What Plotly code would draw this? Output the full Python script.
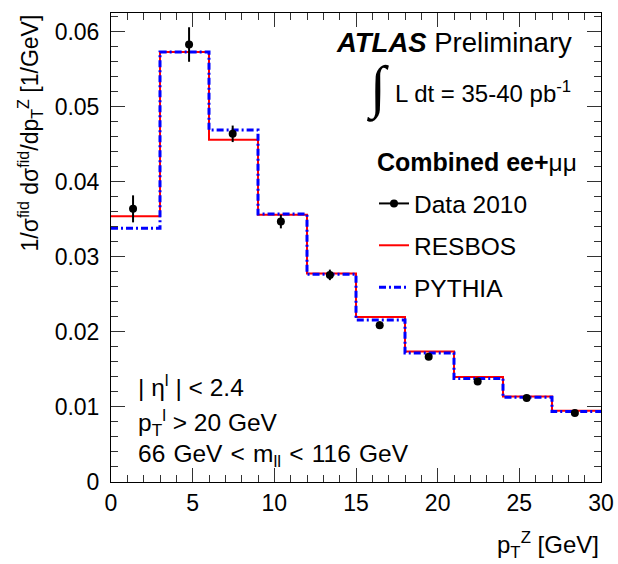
import plotly.graph_objects as go

# Z boson transverse momentum, normalised fiducial cross section
bin_edges = [0, 3, 6, 9, 12, 15, 18, 21, 24, 27, 30]
data_x = [1.35, 4.78, 7.45, 10.4, 13.4, 16.45, 19.45, 22.45, 25.45, 28.4]
data_y = [0.0364, 0.0583, 0.0464, 0.0347, 0.0276, 0.0209, 0.0167, 0.0134, 0.0112, 0.0092]
data_err = [0.0018, 0.0023, 0.0011, 0.0009, 0.0007, 0.0005, 0.0003, 0.0003, 0.0002, 0.0002]
resbos = [0.0354, 0.0573, 0.0456, 0.0356, 0.0278, 0.0220, 0.0174, 0.0140, 0.0114, 0.0095]
pythia = [0.0338, 0.0573, 0.0469, 0.0357, 0.0277, 0.0216, 0.0172, 0.0138, 0.0113, 0.0094]

FONT = "Liberation Sans, Arial, sans-serif"
FS = 23      # axis tick labels and titles
FT = 24.5    # legend and info text

# plot-area geometry in pixels, used to place the text labels
L, R, T, B = 111, 17, 13, 82
W, H = 618, 564
PW, PH = W - L - R, H - T - B


def px(xpix):
    return (xpix - L) / PW


def py(ypix):
    return (H - B - ypix) / PH


def step(values):
    # histogram outline: one horizontal segment per bin
    return bin_edges, list(values) + [values[-1]]


fig = go.Figure()

rx, ry = step(resbos)
fig.add_trace(go.Scatter(x=rx, y=ry, mode="lines", line_shape="hv",
                         line=dict(color="#ff0000", width=2),
                         name="RESBOS", legendgroup="b", legendrank=2))

qx, qy = step(pythia)
fig.add_trace(go.Scatter(x=qx, y=qy, mode="lines", line_shape="hv",
                         line=dict(color="#0000ff", width=3, dash="7px,3px,2px,3px"),
                         name="PYTHIA", legendgroup="c", legendrank=3))

fig.add_trace(go.Scatter(x=data_x, y=data_y, mode="markers",
                         marker=dict(color="black", size=8),
                         error_y=dict(type="data", array=data_err, color="black",
                                      thickness=2, width=0),
                         showlegend=False))

# legend entry for the data: line with a dot
fig.add_trace(go.Scatter(x=[None], y=[None], mode="lines+markers",
                         line=dict(color="black", width=2),
                         marker=dict(color="black", size=8),
                         name="Data 2010", legendgroup="a", legendrank=1))

axis_common = dict(showline=True, linecolor="black", linewidth=1, mirror="ticks",
                   ticks="inside", tickcolor="#333333", showgrid=False, zeroline=False,
                   automargin=False,
                   tickfont=dict(family=FONT, size=FS, color="black"))

fig.update_xaxes(range=[0, 30], dtick=5, tick0=0, ticklen=14,
                 minor=dict(ticks="inside", ticklen=7, dtick=1, tickcolor="#333333"),
                 **axis_common)
fig.update_yaxes(range=[0, 0.0625], dtick=0.01, tick0=0, ticklen=14,
                 ticklabelstandoff=6,
                 minor=dict(ticks="inside", ticklen=7, dtick=0.002, tickcolor="#333333"),
                 **axis_common)

SP = "\u2004"  # slightly wider gap between words

ann = []
ann.append(dict(text="1/σ<sup>fid</sup> dσ<sup>fid</sup>/dp<sub>T</sub><sup>Z</sup> [1/GeV]",
                xref="paper", yref="paper", x=px(29), y=1.0, xanchor="center",
                yanchor="top", textangle=-90, showarrow=False,
                font=dict(family=FONT, size=FS, color="black")))
ann.append(dict(text="p<sub>T</sub><sup>Z</sup> [GeV]", xref="paper", yref="paper",
                x=1.0, y=py(545), xanchor="right", yanchor="middle", showarrow=False,
                font=dict(family=FONT, size=24, color="black")))
ann.append(dict(text="<b><i>ATLAS</i></b> Preliminary", xref="paper", yref="paper",
                x=px(574), y=py(43), xanchor="right", yanchor="middle", showarrow=False,
                font=dict(family=FONT, size=27.5, color="black")))
ann.append(dict(text="∫", xref="paper", yref="paper",
                x=px(377), y=py(88), xanchor="center",
                yanchor="middle", showarrow=False,
                font=dict(family="Liberation Serif", size=58, color="black")))
ann.append(dict(text="L dt = 35-40 pb<sup>-1</sup>", xref="paper", yref="paper",
                x=px(573), y=py(92), xanchor="right", yanchor="middle",
                showarrow=False, font=dict(family=FONT, size=24, color="black")))
ann.append(dict(text="<b><span style='font-size:25px'>Combined ee+</span></b>μμ",
                xref="paper", yref="paper",
                x=px(375), y=py(162), xanchor="left", yanchor="middle",
                showarrow=False, font=dict(family=FONT, size=FT, color="black")))
for txt, yp in [("| η<sup>l</sup> | < 2.4", 385),
                ("p<sub>T</sub><sup>l</sup> > 20 GeV", 422),
                (SP.join(["66", "GeV", "<", "m<sub>ll</sub>", "<", "116", "GeV"]), 455)]:
    ann.append(dict(text=txt, xref="paper", yref="paper", x=px(136),
                    y=py(yp), xanchor="left", yanchor="middle",
                    showarrow=False, font=dict(family=FONT, size=FT, color="black")))

fig.update_layout(
    width=W, height=H,
    margin=dict(l=L, r=R, t=T, b=B),
    paper_bgcolor="white", plot_bgcolor="white",
    annotations=ann,
    legend=dict(x=px(374), y=py(181), xanchor="left", yanchor="top",
                bgcolor="rgba(0,0,0,0)", tracegroupgap=7, itemwidth=30,
                font=dict(family=FONT, size=FT, color="black")),
    showlegend=True,
)

fig.write_html("out.html")
